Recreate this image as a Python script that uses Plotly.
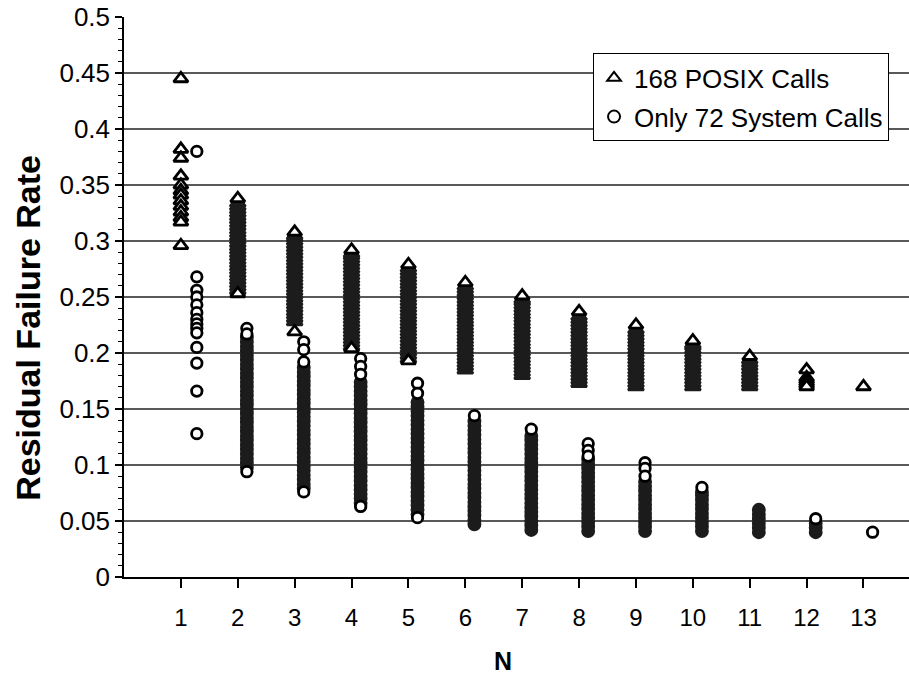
import plotly.graph_objects as go

# ---------------- data ----------------
n_values = list(range(1, 14))
x_tick_labels = [str(n) for n in n_values]
y_grid_values = [0.05, 0.10, 0.15, 0.20, 0.25, 0.30, 0.35, 0.40, 0.45]

# 168 POSIX calls (triangles) - individually visible points
posix_open = [
    [0.445, 0.382, 0.374, 0.358, 0.350, 0.345, 0.341, 0.336, 0.331, 0.326, 0.321, 0.317, 0.296],
    [0.338, 0.253],
    [0.308, 0.219],
    [0.292, 0.204],
    [0.279, 0.193],
    [0.263],
    [0.251],
    [0.237],
    [0.225],
    [0.211],
    [0.197],
    [0.185, 0.178, 0.176, 0.174, 0.172, 0.170],
    [0.170],
]
# 168 POSIX calls - densely packed points forming solid columns
posix_dense = [
    [],
    [0.256, 0.259, 0.262, 0.265, 0.268, 0.271, 0.274, 0.277, 0.280, 0.283, 0.286, 0.289, 0.292, 0.295,
     0.298, 0.301, 0.304, 0.307, 0.310, 0.313, 0.316, 0.319, 0.322, 0.325, 0.328, 0.331, 0.334],
    [0.228, 0.231, 0.234, 0.237, 0.240, 0.243, 0.246, 0.249, 0.252, 0.255, 0.258, 0.261, 0.264, 0.267,
     0.270, 0.273, 0.276, 0.279, 0.282, 0.285, 0.288, 0.291, 0.294, 0.297, 0.300, 0.303, 0.305],
    [0.206, 0.209, 0.212, 0.215, 0.218, 0.221, 0.224, 0.227, 0.230, 0.233, 0.236, 0.239, 0.242, 0.245,
     0.248, 0.251, 0.254, 0.257, 0.260, 0.263, 0.266, 0.269, 0.272, 0.275, 0.278, 0.281, 0.284, 0.287, 0.289],
    [0.195, 0.198, 0.201, 0.204, 0.207, 0.210, 0.213, 0.216, 0.219, 0.222, 0.225, 0.228, 0.231, 0.234,
     0.237, 0.240, 0.243, 0.246, 0.249, 0.252, 0.255, 0.258, 0.261, 0.264, 0.267, 0.270, 0.273, 0.276],
    [0.185, 0.188, 0.191, 0.194, 0.197, 0.200, 0.203, 0.206, 0.209, 0.212, 0.215, 0.218, 0.221, 0.224,
     0.227, 0.230, 0.233, 0.236, 0.239, 0.242, 0.245, 0.248, 0.251, 0.254, 0.257, 0.260],
    [0.180, 0.183, 0.186, 0.189, 0.192, 0.195, 0.198, 0.201, 0.204, 0.207, 0.210, 0.213, 0.216, 0.219,
     0.222, 0.225, 0.228, 0.231, 0.234, 0.237, 0.240, 0.243, 0.246, 0.248],
    [0.173, 0.176, 0.179, 0.182, 0.185, 0.188, 0.191, 0.194, 0.197, 0.200, 0.203, 0.206, 0.209, 0.212,
     0.215, 0.218, 0.221, 0.224, 0.227, 0.230, 0.233],
    [0.170, 0.173, 0.176, 0.179, 0.182, 0.185, 0.188, 0.191, 0.194, 0.197, 0.200, 0.203, 0.206, 0.209,
     0.212, 0.215, 0.218, 0.221],
    [0.170, 0.173, 0.176, 0.179, 0.182, 0.185, 0.188, 0.191, 0.194, 0.197, 0.200, 0.203, 0.206, 0.208],
    [0.170, 0.173, 0.176, 0.179, 0.182, 0.185, 0.188, 0.191, 0.194],
    [],
    [],
]

# Only 72 system calls (circles) - individually visible points
syscall_open = [
    [0.380, 0.268, 0.256, 0.250, 0.243, 0.236, 0.230, 0.226, 0.222, 0.218, 0.205, 0.191, 0.166, 0.128],
    [0.222, 0.217, 0.094],
    [0.210, 0.203, 0.192, 0.076],
    [0.195, 0.188, 0.181, 0.063],
    [0.173, 0.164, 0.053],
    [0.144],
    [0.132],
    [0.119, 0.113, 0.108],
    [0.102, 0.097, 0.090],
    [0.080],
    [],
    [0.052],
    [0.040],
]
# Only 72 system calls - densely packed points forming solid columns
syscall_dense = [
    [],
    [0.098, 0.102, 0.106, 0.110, 0.114, 0.118, 0.122, 0.126, 0.130, 0.134, 0.138, 0.142, 0.146, 0.150,
     0.154, 0.158, 0.162, 0.166, 0.170, 0.174, 0.178, 0.182, 0.186, 0.190, 0.194, 0.198, 0.202, 0.206,
     0.210, 0.214],
    [0.079, 0.083, 0.087, 0.091, 0.095, 0.099, 0.103, 0.107, 0.111, 0.115, 0.119, 0.123, 0.127, 0.131,
     0.135, 0.139, 0.143, 0.147, 0.151, 0.155, 0.159, 0.163, 0.167, 0.171, 0.175, 0.179, 0.183, 0.187],
    [0.066, 0.070, 0.074, 0.078, 0.082, 0.086, 0.090, 0.094, 0.098, 0.102, 0.106, 0.110, 0.114, 0.118,
     0.122, 0.126, 0.130, 0.134, 0.138, 0.142, 0.146, 0.150, 0.154, 0.158, 0.162, 0.166, 0.170, 0.174],
    [0.056, 0.060, 0.064, 0.068, 0.072, 0.076, 0.080, 0.084, 0.088, 0.092, 0.096, 0.100, 0.104, 0.108,
     0.112, 0.116, 0.120, 0.124, 0.128, 0.132, 0.136, 0.140, 0.144, 0.148, 0.152, 0.156],
    [0.047, 0.051, 0.055, 0.059, 0.063, 0.067, 0.071, 0.075, 0.079, 0.083, 0.087, 0.091, 0.095, 0.099,
     0.103, 0.107, 0.111, 0.115, 0.119, 0.123, 0.127, 0.131, 0.135, 0.139],
    [0.042, 0.046, 0.050, 0.054, 0.058, 0.062, 0.066, 0.070, 0.074, 0.078, 0.082, 0.086, 0.090, 0.094,
     0.098, 0.102, 0.106, 0.110, 0.114, 0.118, 0.122, 0.126],
    [0.041, 0.045, 0.049, 0.053, 0.057, 0.061, 0.065, 0.069, 0.073, 0.077, 0.081, 0.085, 0.089, 0.093,
     0.097, 0.101, 0.105],
    [0.041, 0.045, 0.049, 0.053, 0.057, 0.061, 0.065, 0.069, 0.073, 0.077, 0.081, 0.085],
    [0.041, 0.045, 0.049, 0.053, 0.057, 0.061, 0.065, 0.069, 0.073, 0.076],
    [0.040, 0.044, 0.048, 0.052, 0.056, 0.060],
    [0.040, 0.044, 0.048],
    [],
]

# ---------------- styling ----------------
SYS_OFFSET = [0.28] + [0.16] * 12   # horizontal shift of the circle series next to each N
FONT = "Arial, Liberation Sans, sans-serif"
DARK = "#1c1c1c"


def flatten(groups, offsets=None):
    xs, ys = [], []
    for i, (n, vals) in enumerate(zip(n_values, groups)):
        off = offsets[i] if offsets else 0.0
        xs += [n + off] * len(vals)
        ys += list(vals)
    return xs, ys


fig = go.Figure()

px_, py_ = flatten(posix_dense)
fig.add_trace(go.Scatter(x=px_, y=py_, mode="markers", showlegend=False, hoverinfo="skip",
                         marker=dict(symbol="triangle-up", size=13.5, color=DARK,
                                     line=dict(color=DARK, width=2.6))))
sx_, sy_ = flatten(syscall_dense, SYS_OFFSET)
fig.add_trace(go.Scatter(x=sx_, y=sy_, mode="markers", showlegend=False, hoverinfo="skip",
                         marker=dict(symbol="circle", size=11.5, color=DARK,
                                     line=dict(color=DARK, width=2.4))))

pox, poy = flatten(posix_open)
fig.add_trace(go.Scatter(x=pox, y=poy, mode="markers", name="168 POSIX Calls",
                         legendrank=1, legendgroup="a",
                         marker=dict(symbol="triangle-up", size=12.5, color="white",
                                     line=dict(color="black", width=2.8))))
sox, soy = flatten(syscall_open, SYS_OFFSET)
fig.add_trace(go.Scatter(x=sox, y=soy, mode="markers", name="Only 72 System Calls",
                         legendrank=2, legendgroup="b",
                         marker=dict(symbol="circle", size=10.5, color="white",
                                     line=dict(color="black", width=2.8))))

shapes = [dict(type="line", xref="paper", x0=0, x1=1, yref="y", y0=v, y1=v,
               line=dict(color="#222222", width=1.6), layer="below") for v in y_grid_values]

fig.update_layout(
    width=909, height=676,
    margin=dict(l=124, r=0, t=17, b=99),
    paper_bgcolor="white", plot_bgcolor="white",
    font=dict(family=FONT, color="black"),
    shapes=shapes,
    showlegend=True,
    legend=dict(x=0.5975, y=0.935, xanchor="left", yanchor="top",
                bgcolor="white", bordercolor="black", borderwidth=1,
                font=dict(size=26, family=FONT, color="black"),
                tracegroupgap=2, itemsizing="constant"),
    xaxis=dict(range=[0, 13.8], tickmode="array", tickvals=n_values, ticktext=x_tick_labels,
               showgrid=False, zeroline=False, showline=True, linecolor="black", linewidth=1.5,
               ticks="outside", ticklen=9, tickwidth=1.5, tickcolor="black",
               tickfont=dict(size=24, family=FONT, color="black"), ticklabelstandoff=9),
    yaxis=dict(range=[0, 0.5], dtick=0.05, tick0=0, showgrid=False, zeroline=False,
               showline=True, linecolor="black", linewidth=1.5,
               ticks="outside", ticklen=7, tickwidth=1.5, tickcolor="black",
               tickfont=dict(size=26, family=FONT, color="black"),
               ticklabeloverflow="allow",
               minor=dict(dtick=0.01, ticks="outside", ticklen=4, tickwidth=1, tickcolor="black",
                          showgrid=False)),
    annotations=[
        dict(text="<b>N</b>", xref="paper", yref="paper", x=0.483, y=-0.150,
             showarrow=False, font=dict(size=25, family=FONT, color="black"),
             xanchor="center", yanchor="middle"),
        dict(text="<b>Residual Failure Rate</b>", xref="paper", yref="paper", x=-0.1223, y=0.445,
             showarrow=False, textangle=-90, font=dict(size=34, family=FONT, color="black"),
             xanchor="center", yanchor="middle"),
    ],
)

# remove the default 8px page margin so the 909x676 figure fills the window exactly
fig.write_html("out.html", config={"displayModeBar": False},
               post_script="document.body.style.margin='0px';")
